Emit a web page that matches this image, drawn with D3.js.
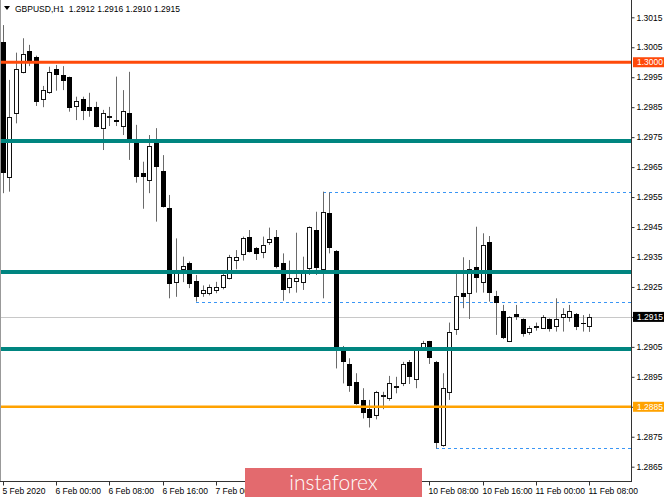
<!DOCTYPE html>
<html><head><meta charset="utf-8">
<script src="https://cdn.jsdelivr.net/npm/d3@7"></script>
<style>
html,body{margin:0;padding:0;background:#fff;overflow:hidden}
svg{display:block;font-family:Tahoma,"Liberation Sans","DejaVu Sans",sans-serif}
</style></head><body>
<svg id="c" width="665" height="499"></svg>
<script>
// ---------------- data ----------------
const symbol = "GBPUSD,H1";
const lastOHLC = ["1.2912", "1.2916", "1.2910", "1.2915"];

const opens = [1.30069,1.29618,1.29830,1.29966,1.30039,1.30018,1.29876,1.29900,1.29976,1.29957,
1.29950,1.29855,1.29877,1.29850,1.29850,1.29780,1.29818,1.29807,1.29787,1.29830,
1.29738,1.29629,1.29607,1.29729,1.29638,1.29512,1.29267,1.29310,1.29331,1.29270,
1.29229,1.29229,1.29240,1.29249,1.29279,1.29340,1.29360,1.29418,1.29381,1.29368,
1.29399,1.29418,1.29331,1.29249,1.29270,1.29267,1.29312,1.29440,1.29309,1.29497,
1.29371,1.29051,1.28993,1.28934,1.28873,1.28842,1.28822,1.28887,1.28878,1.28919,
1.28928,1.29000,1.28942,1.29051,1.29068,1.29000,1.28722,1.28900,1.29110,1.29231,
1.29229,1.29318,1.29267,1.29399,1.29220,1.29171,1.29068,1.29160,1.29142,1.29101,
1.29117,1.29114,1.29142,1.29120,1.29149,1.29149,1.29160,1.29131,1.2912];
const highs = [1.30124,1.29941,1.30032,1.30080,1.30058,1.30022,1.29921,1.29985,1.29991,1.29987,
1.29952,1.29885,1.29885,1.29898,1.29868,1.29841,1.29851,1.29952,1.29907,1.29968,
1.29791,1.29668,1.29757,1.29780,1.29690,1.29557,1.29412,1.29351,1.29335,1.29290,
1.29255,1.29258,1.29267,1.29297,1.29357,1.29373,1.29418,1.29440,1.29383,1.29418,
1.29448,1.29440,1.29362,1.29338,1.29431,1.29351,1.29452,1.29501,1.29568,1.29565,
1.29373,1.29053,1.29012,1.28962,1.28912,1.28873,1.28903,1.28900,1.28953,1.28950,
1.29000,1.29006,1.29045,1.29070,1.29070,1.29003,1.28962,1.29131,1.29300,1.29349,
1.29340,1.29451,1.29429,1.29420,1.29237,1.29190,1.29152,1.29190,1.29145,1.29120,
1.29131,1.29156,1.29145,1.29212,1.29179,1.29190,1.29163,1.29156,1.2916];
const lows = [1.29563,1.29568,1.29796,1.29963,1.29987,1.29854,1.29850,1.29895,1.29905,1.29907,
1.29835,1.29807,1.29807,1.29818,1.29783,1.29707,1.29787,1.29787,1.29757,1.29674,
1.29598,1.29511,1.29563,1.29468,1.29515,1.29212,1.29217,1.29266,1.29246,1.29201,
1.29217,1.29222,1.29229,1.29242,1.29275,1.29309,1.29338,1.29365,1.29340,1.29346,
1.29390,1.29312,1.29204,1.29229,1.29231,1.29240,1.29290,1.29290,1.29212,1.29362,
1.28978,1.28928,1.28900,1.28857,1.28811,1.28781,1.28808,1.28842,1.28870,1.28895,
1.28919,1.28926,1.28912,1.29048,1.28993,1.28711,1.28717,1.28873,1.29090,1.29179,
1.29143,1.29231,1.29231,1.29201,1.29090,1.29076,1.29066,1.29140,1.29084,1.29090,
1.29104,1.29112,1.29101,1.29101,1.29101,1.29134,1.29106,1.29101,1.2910];
const closes = [1.29629,1.29818,1.29976,1.30028,1.30005,1.29868,1.29907,1.29968,1.29957,1.29937,
1.29846,1.29871,1.29838,1.29837,1.29785,1.29830,1.29820,1.29800,1.29838,1.29729,
1.29618,1.29618,1.29719,1.29649,1.29518,1.29260,1.29298,1.29320,1.29260,1.29217,
1.29239,1.29251,1.29251,1.29289,1.29349,1.29349,1.29412,1.29368,1.29360,1.29390,
1.29411,1.29318,1.29240,1.29279,1.29279,1.29297,1.29449,1.29312,1.29501,1.29379,
1.29042,1.29000,1.28919,1.28859,1.28830,1.28811,1.28900,1.28890,1.28928,1.28921,
1.28993,1.28950,1.29042,1.29062,1.29012,1.28728,1.28912,1.29098,1.29220,1.29217,
1.29309,1.29279,1.29390,1.29231,1.29195,1.29079,1.29149,1.29149,1.29093,1.29112,
1.29119,1.29149,1.29109,1.29142,1.29160,1.29171,1.29117,1.29130,1.2915];

const timeTickIndex = [0, 8, 16, 24, 32, 40, 48, 56, 64, 72, 80, 88];
const timeTickLabels = ["5 Feb 2020", "6 Feb 00:00", "6 Feb 08:00", "6 Feb 16:00", "7 Feb 00:00",
  "7 Feb 08:00", "7 Feb 16:00", "10 Feb 00:00", "10 Feb 08:00", "10 Feb 16:00", "11 Feb 00:00", "11 Feb 08:00"];
const priceTicks = [1.3015, 1.3005, 1.2995, 1.2985, 1.2975, 1.2965, 1.2955, 1.2945, 1.2935,
  1.2925, 1.2915, 1.2905, 1.2895, 1.2885, 1.2875, 1.2865];

const resistanceLevel = [1.3000];
const tealLevels = [1.29737, 1.29300, 1.29043];
const supportLevel = [1.2885];
const swingHighIndex = [48];
const swingLowIndex = [29, 65];
const currentPrice = 1.2915;
const brand = "instaforex";

// ---------------- layout ----------------
const W = 665, H = 499;
const plotRight = 631, plotBottom = 481;
const banner = {x: 245, y: 468, w: 177, h: 29};
const svg = d3.select("#c");
const n = opens.length;

const x = d3.scaleLinear().domain([0, n - 1]).range([2.7, 589.4]);
const y = d3.scaleLinear().domain([1.2865, 1.3015]).range([466.7, 17.3]);
const px = i => Math.round(x(i));

svg.append("rect").attr("width", W).attr("height", H).attr("fill", "#fff");

svg.append("defs").append("clipPath").attr("id", "plot")
  .append("rect").attr("x", 1).attr("y", 0).attr("width", plotRight - 1).attr("height", plotBottom);

const plot = svg.append("g").attr("clip-path", "url(#plot)");

// current price line
plot.append("line").attr("x1", 0).attr("x2", plotRight)
  .attr("y1", Math.round(y(currentPrice)) + 0.5).attr("y2", Math.round(y(currentPrice)) + 0.5)
  .attr("stroke", "#c8c8c8").attr("stroke-width", 1);

// swing dashed lines
const swings = swingHighIndex.map(i => ({i, v: highs[i]})).concat(swingLowIndex.map(i => ({i, v: lows[i]})));
plot.selectAll("line.swing").data(swings).join("line").attr("class", "swing")
  .attr("x1", d => px(d.i)).attr("x2", plotRight)
  .attr("y1", d => Math.round(y(d.v)) + 0.5).attr("y2", d => Math.round(y(d.v)) + 0.5)
  .attr("stroke", "#3a96f5").attr("stroke-width", 1).attr("stroke-dasharray", "3,3");

// horizontal levels
const levels = resistanceLevel.map(v => ({v, c: "#ff4a0a", w: 3}))
  .concat(tealLevels.map(v => ({v, c: "#008580", w: 4})))
  .concat(supportLevel.map(v => ({v, c: "#ffa200", w: 2.5})));

// candles
const idx = d3.range(n);
const cg = plot.append("g");
cg.selectAll("line.wick").data(idx).join("line").attr("class", "wick")
  .attr("x1", i => px(i) + 0.5).attr("x2", i => px(i) + 0.5)
  .attr("y1", i => y(highs[i])).attr("y2", i => y(lows[i]))
  .attr("stroke", "#6a6a6a").attr("stroke-width", 1);

cg.selectAll("rect.body").data(idx).join("rect").attr("class", "body")
  .attr("x", i => closes[i] >= opens[i] ? px(i) - 1.5 : px(i) - 2)
  .attr("width", i => closes[i] >= opens[i] ? 4 : 5)
  .attr("y", i => {
    const t = y(Math.max(opens[i], closes[i]));
    return closes[i] >= opens[i] ? Math.round(t) + 0.5 : Math.round(t);
  })
  .attr("height", i => {
    const t = Math.round(y(Math.max(opens[i], closes[i])));
    const b = Math.round(y(Math.min(opens[i], closes[i])));
    return Math.max(b - t, 1);
  })
  .attr("fill", i => closes[i] >= opens[i] ? "#fff" : "#000")
  .attr("stroke", i => closes[i] >= opens[i] ? "#111" : "none")
  .attr("stroke-width", 1);

plot.selectAll("line.level").data(levels).join("line").attr("class", "level")
  .attr("x1", 0).attr("x2", plotRight)
  .attr("y1", d => y(d.v)).attr("y2", d => y(d.v))
  .attr("stroke", d => d.c).attr("stroke-width", d => d.w);

// frame
svg.append("line").attr("x1", 0.5).attr("x2", 0.5).attr("y1", 0).attr("y2", plotBottom)
  .attr("stroke", "#999");
svg.append("line").attr("x1", plotRight + 0.5).attr("x2", plotRight + 0.5).attr("y1", 0).attr("y2", plotBottom + 0.5)
  .attr("stroke", "#333");
svg.append("line").attr("x1", 0).attr("x2", plotRight + 1).attr("y1", plotBottom + 0.5).attr("y2", plotBottom + 0.5)
  .attr("stroke", "#333");

// y axis
const yAxis = d3.axisRight(y).tickValues(priceTicks).tickSize(3).tickPadding(2)
  .tickFormat(d3.format(".4f"));
const ya = svg.append("g").attr("transform", `translate(${plotRight + 0.5},0)`).call(yAxis);
ya.select(".domain").remove();
ya.selectAll("line").attr("stroke", "#333");
ya.selectAll("text").attr("font-size", "8.5px").attr("fill", "#000")
  .attr("font-family", "Tahoma,'Liberation Sans',sans-serif");

// price boxes
const boxes = [
  {v: resistanceLevel[0], bg: "#ff4a0a"},
  {v: currentPrice, bg: "#000"},
  {v: supportLevel[0], bg: "#ffa200"}
];
const bx = svg.selectAll("g.box").data(boxes).join("g").attr("class", "box")
  .attr("transform", d => `translate(${plotRight + 2},${y(d.v)})`);
bx.append("rect").attr("x", 0).attr("y", -5).attr("width", 31).attr("height", 10).attr("fill", d => d.bg);
bx.append("text").attr("x", 4).attr("y", 0).attr("dy", "0.35em").attr("font-size", "8.5px")
  .attr("fill", "#fff").text(d => d3.format(".4f")(d.v));

// x axis
const xAxis = d3.axisBottom(x).tickValues(timeTickIndex).tickSize(4).tickPadding(2)
  .tickFormat((d, i) => timeTickLabels[i]);
const xa = svg.append("g").attr("transform", `translate(0,${plotBottom + 0.5})`).call(xAxis);
xa.select(".domain").remove();
xa.selectAll(".tick").attr("transform", d => `translate(${px(d) + 0.5},0)`);
xa.selectAll("line").attr("stroke", "#333");
xa.selectAll("text").attr("font-size", "8.5px").attr("fill", "#000").attr("text-anchor", "start")
  .attr("x", -1).attr("font-family", "Tahoma,'Liberation Sans',sans-serif");
// labels that sit entirely under the brand banner are not visible in the picture
xa.selectAll(".tick").filter(d => px(d) > banner.x && px(d) < banner.x + banner.w)
  .select("text").remove();

// header
svg.append("path").attr("d", "M4,6 L10,6 L7,10 Z").attr("fill", "#000");
svg.append("text").attr("x", 15).attr("y", 11.5).attr("font-size", "8.5px").attr("fill", "#000")
  .style("white-space", "pre")
  .text(symbol + "  " + lastOHLC.join(" "));

// brand banner
const bannerG = svg.append("g");
bannerG.append("rect").attr("x", banner.x).attr("y", banner.y).attr("width", banner.w).attr("height", banner.h)
  .attr("fill", "#e36a6e");
bannerG.append("text").attr("x", banner.x + banner.w / 2).attr("y", 490).attr("text-anchor", "middle")
  .attr("font-family", "Lato,'Open Sans',sans-serif").attr("font-weight", 300)
  .attr("font-size", "21px").attr("fill", "#fff").text(brand);
</script>
</body></html>
